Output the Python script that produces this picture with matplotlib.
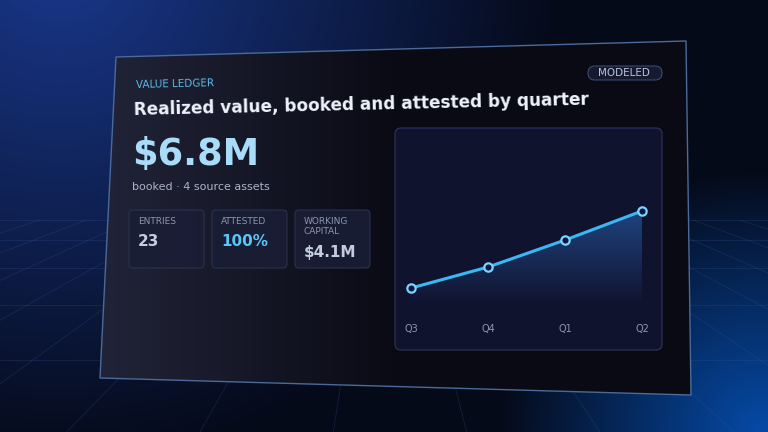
import numpy as np
import matplotlib.pyplot as plt
from matplotlib.patches import Polygon, FancyBboxPatch

quarters = ["Q3", "Q4", "Q1", "Q2"]
booked = [1.23, 2.75, 4.7, 6.8]  # $M
stats = [("ENTRIES", "23"), ("ATTESTED", "100%"), ("WORKING\nCAPITAL", "$4.1M")]

W, H = 768, 432
fig = plt.figure(figsize=(W / 100, H / 100), dpi=100)
bg = fig.add_axes([0, 0, 1, 1])
bg.set_xlim(0, W)
bg.set_ylim(H, 0)
bg.axis("off")

# background gradient
yy, xx = np.mgrid[0:H, 0:W]
r = np.clip(1 - np.hypot(xx - 60, yy + 40) / 500, 0, 1)
r2 = np.clip(1 - np.hypot(xx - 760, yy - 430) / 260, 0, 1)
img = np.zeros((H, W, 3))
img[..., 0] = 0.02 + 0.08 * r
img[..., 1] = 0.04 + 0.18 * r + 0.25 * r2
img[..., 2] = 0.10 + 0.45 * r + 0.55 * r2
bg.imshow(img, extent=[0, W, H, 0], zorder=0)
# floor grid
for x0 in np.linspace(-600, 1400, 16):
    bg.plot([384 + (x0 - 384) * 0.35, x0], [220, 432], color="#3a5a9a", lw=0.5, alpha=0.3, zorder=1)
for y in [220, 240, 268, 305, 360, 432]:
    bg.axhline(y, color="#3a5a9a", lw=0.5, alpha=0.3, zorder=1)

# card with left-to-right gradient
card = Polygon([(116, 57), (686, 41), (691, 395), (100, 378)], closed=True,
               facecolor="none", edgecolor="#4a6a9a", lw=1, zorder=3, joinstyle="round")
bg.add_patch(card)
t = np.clip((xx - 100) / 300, 0, 1)
cimg = np.zeros((H, W, 3))
cimg[..., 0] = 0.13 - 0.09 * t
cimg[..., 1] = 0.14 - 0.10 * t
cimg[..., 2] = 0.22 - 0.14 * t
im = bg.imshow(cimg, extent=[0, W, H, 0], zorder=2)
im.set_clip_path(card)

rot = 1.3
bg.text(136, 84, "VALUE LEDGER", color="#5cb8e6", fontsize=7.5, rotation=rot, va="center", zorder=5)
bg.add_patch(FancyBboxPatch((588, 66), 74, 14, boxstyle="round,pad=0,rounding_size=7",
                            facecolor="#151a30", edgecolor="#3a4a70", lw=0.8, zorder=4))
bg.text(624, 73, "MODELED", color="#b8c4dc", fontsize=7.5, ha="center", va="center", zorder=5)
bg.text(134, 105, "Realized value, booked and attested by quarter", color="#eef2fa",
        fontsize=12.2, fontweight="bold", rotation=rot, va="center", zorder=5)
bg.text(132, 154, "$6.8M", color="#a8dcf8", fontsize=26.5, fontweight="bold", va="center", zorder=5)
bg.text(132, 187, "booked · 4 source assets", color="#aab4c8", fontsize=8, va="center", zorder=5)

for i, (lab, val) in enumerate(stats):
    x0 = 129 + i * 83
    bg.add_patch(FancyBboxPatch((x0, 210), 75, 58, boxstyle="round,pad=0,rounding_size=4",
                                facecolor="#1a1e36", edgecolor="#2c3454", lw=0.8, zorder=4, alpha=0.9))
    bg.text(x0 + 9, 217, lab, color="#8c96b0", fontsize=6.5, va="top", zorder=5, linespacing=1.1)
    bg.text(x0 + 9, 241 if i < 2 else 252, val, color="#5cc4f8" if i == 1 else "#c4cce0",
            fontsize=11, fontweight="bold", va="center", zorder=5)

# chart panel
bg.add_patch(FancyBboxPatch((395, 128), 267, 222, boxstyle="round,pad=0,rounding_size=6",
                            facecolor="#10132e", edgecolor="#2c3660", lw=0.8, zorder=4))
ax = fig.add_axes([395 / W, 1 - 350 / H, 267 / W, 222 / H])
ax.set_facecolor("none")
ax.set_xlim(-0.21, 3.26)
ax.set_ylim(-3.25, 12.8)
ax.axis("off")
x = np.arange(len(quarters))
area = ax.fill_between(x, booked, 0, color="none", lw=0)
gy = np.linspace(0, 1, 100).reshape(-1, 1)
grad = np.zeros((100, 1, 4))
grad[..., 0], grad[..., 1], grad[..., 2] = 0.2, 0.5, 0.9
grad[..., 3] = 0.45 * gy
gim = ax.imshow(grad, extent=[0, 3, 0, max(booked)], origin="lower", aspect="auto", zorder=1)
gim.set_clip_path(area.get_paths()[0], ax.transData)
ax.set_xlim(-0.21, 3.26)
ax.set_ylim(-3.25, 12.8)
ax.plot(x, booked, color="#3ab8f4", lw=2.2, marker="o", ms=6, mfc="#12163a", mec="#7ad4ff", mew=1.6, zorder=3)
for xi, q in zip(x, quarters):
    ax.text(xi, -1.75, q, color="#8c96b0", fontsize=7, ha="center", va="center")

fig.savefig("out.png", dpi=100)
